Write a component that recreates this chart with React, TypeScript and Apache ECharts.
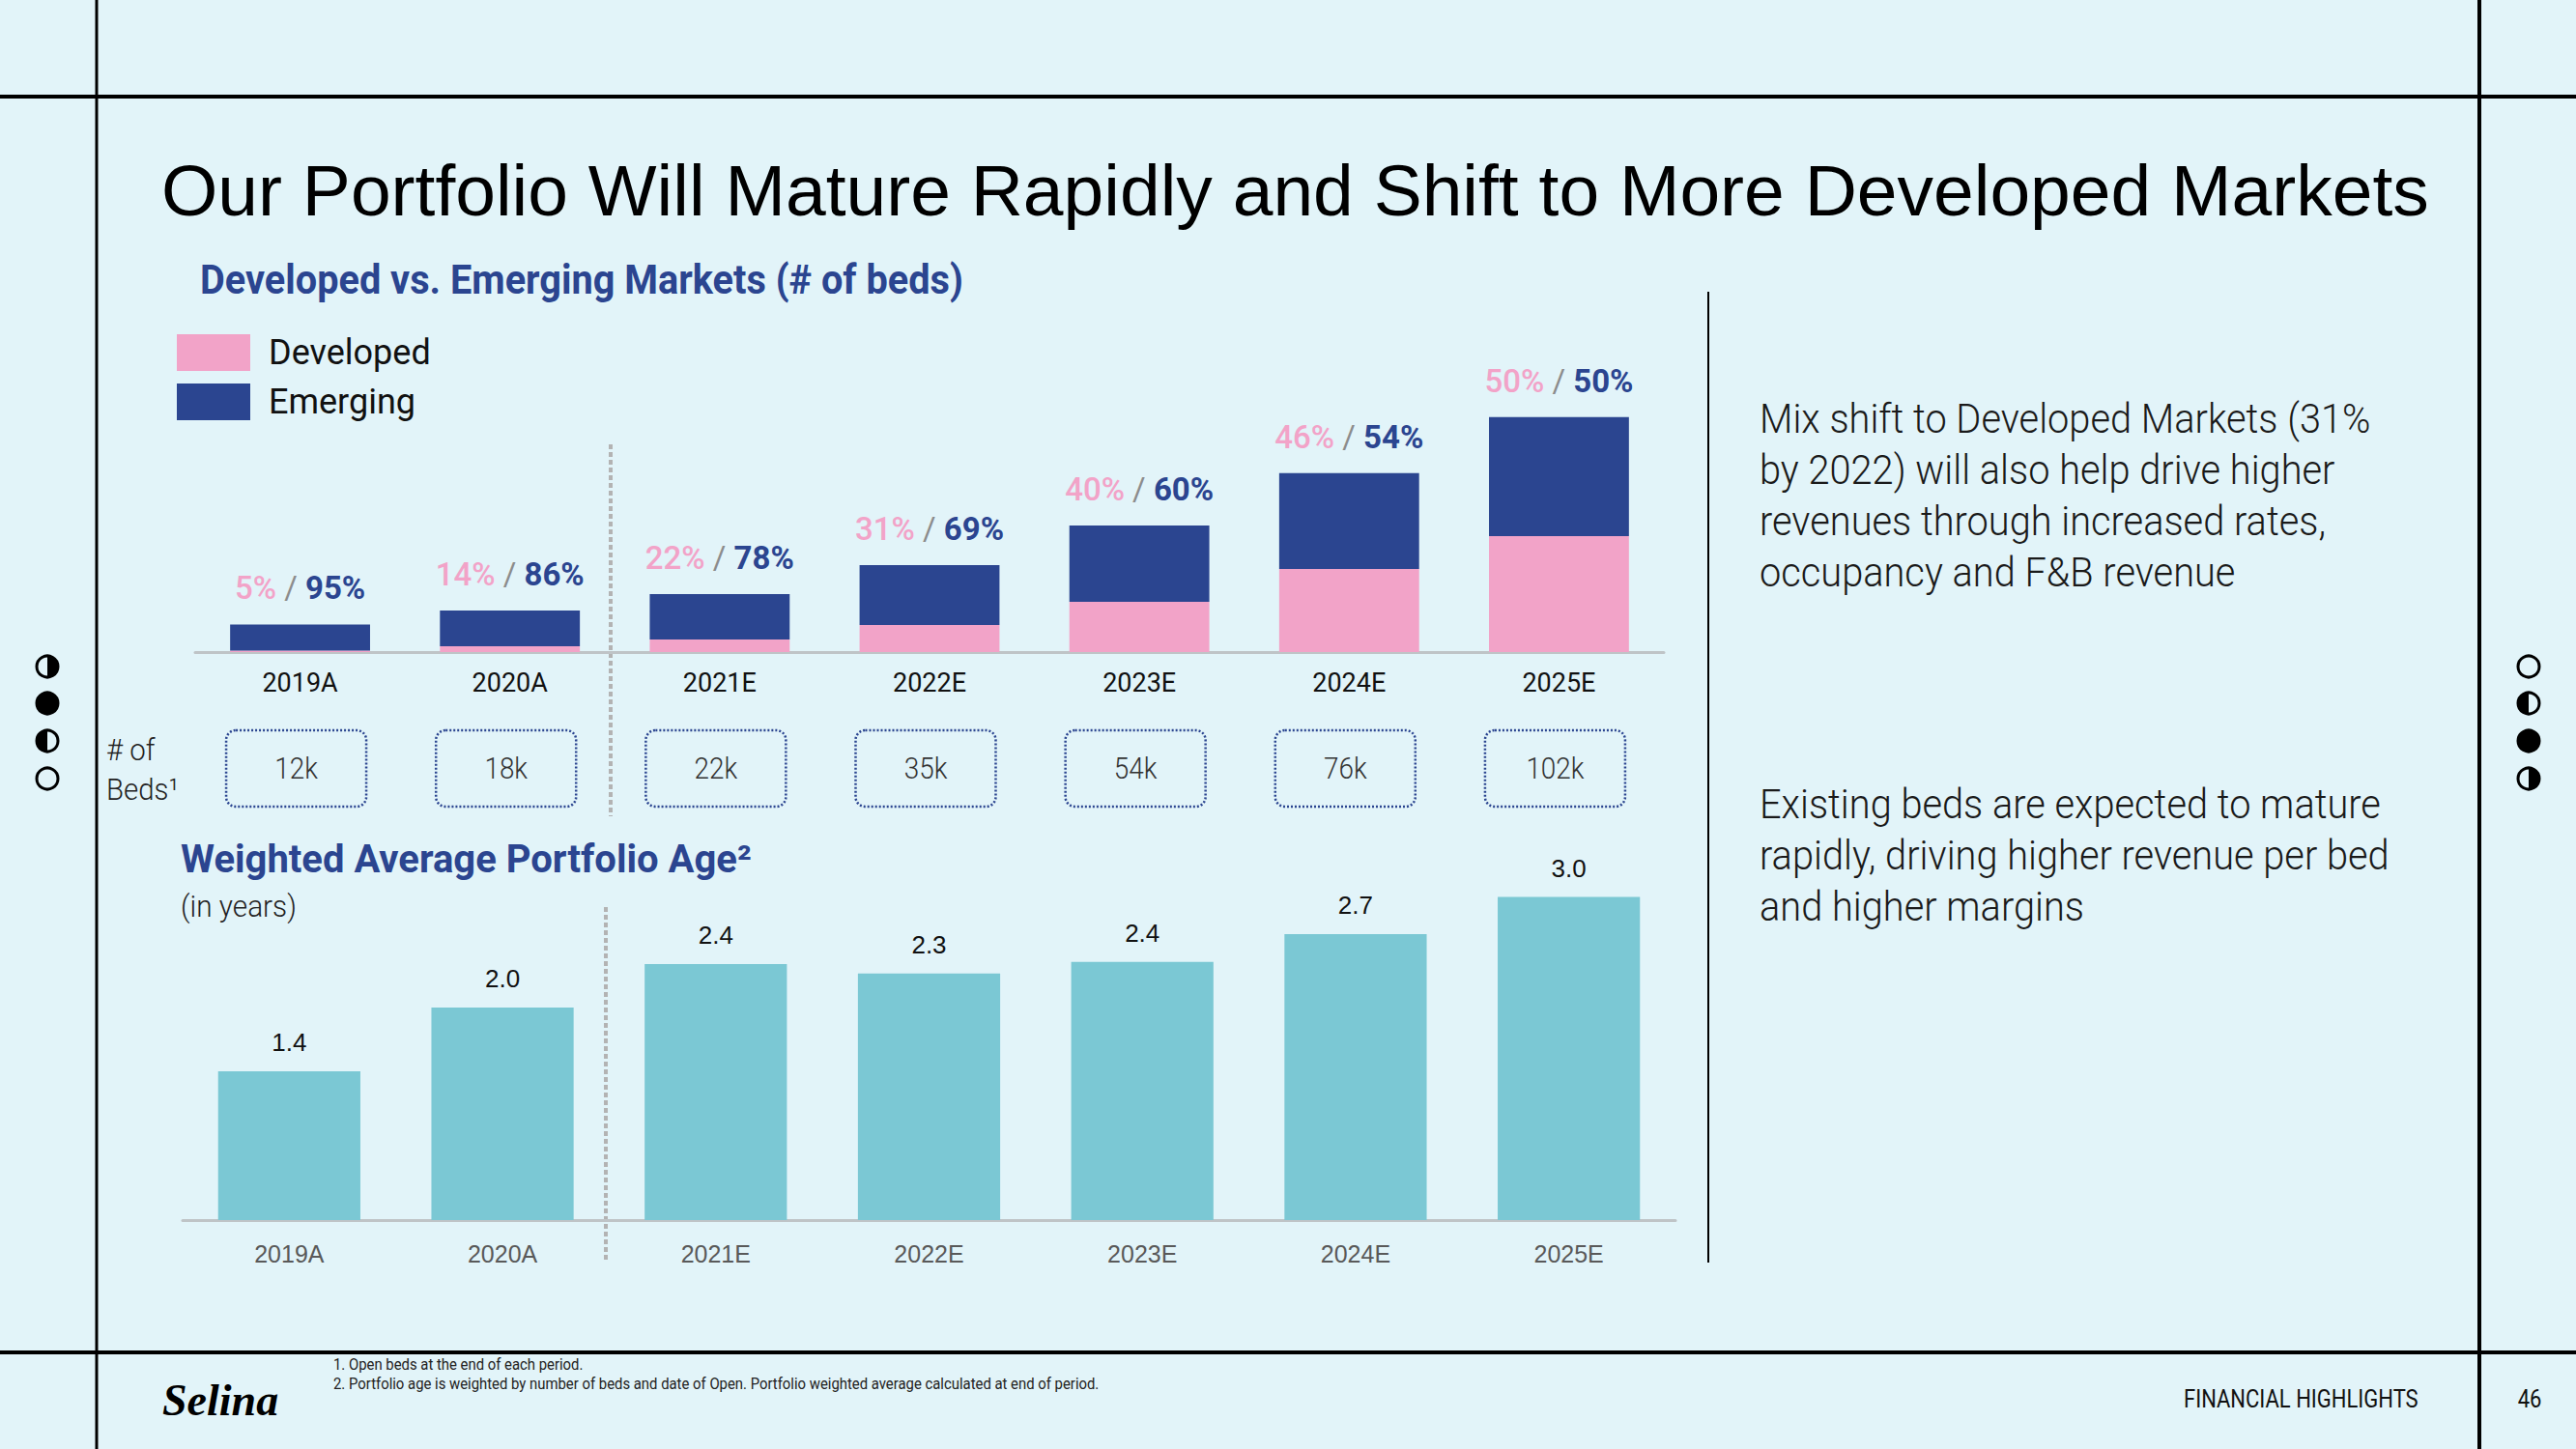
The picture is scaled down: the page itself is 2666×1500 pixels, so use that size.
import React, { useEffect, useRef } from "react";
import * as echarts from "echarts";

// ---------- data ----------
const categories = ["2019A", "2020A", "2021E", "2022E", "2023E", "2024E", "2025E"];
const developedBeds = [0.6, 2.5, 5.5, 11.8, 21.8, 36.1, 50.4]; // thousands of beds
const emergingBeds = [11.4, 15.5, 19.7, 26.0, 33.2, 41.6, 51.7]; // thousands of beds
const developedPct = [5, 14, 22, 31, 40, 46, 50];
const emergingPct = [95, 86, 78, 69, 60, 54, 50];
const totalBedsK = [12, 18, 22, 35, 54, 76, 102];
const portfolioAge = [1.4, 2.0, 2.41, 2.32, 2.43, 2.69, 3.04];
const mixText = [
  "Mix shift to Developed Markets (31%",
  "by 2022) will also help drive higher",
  "revenues through increased rates,",
  "occupancy and F&B revenue",
];
const matureText = [
  "Existing beds are expected to mature",
  "rapidly, driving higher revenue per bed",
  "and higher margins",
];
const footnotes = [
  "1. Open beds at the end of each period.",
  "2. Portfolio age is weighted by number of beds and date of Open. Portfolio weighted average calculated at end of period.",
];

// ---------- style ----------
const W = 2666;
const H = 1500;
const BG = "#E2F4F9";
const NAVY = "#2B4590";
const PINK = "#F2A3C8";
const TEAL = "#7BC8D4";
const AXIS = "#BFC4C7";
const SEP = "#B3B3B3";
const ROBOTO = "Roboto, 'Noto Sans', sans-serif";
const ARIAL = "'Liberation Sans', Arial, sans-serif";

function txt(text: string, x: number, y: number, o: any = {}) {
  const align = o.align || "left";
  const va = o.va || "middle";
  return {
    type: "text",
    x,
    y,
    scaleX: o.scaleX ?? 1,
    z: 10,
    style: {
      text,
      fontSize: o.size || 20,
      fontFamily: o.family || ROBOTO,
      fontWeight: o.weight || "normal",
      fontStyle: o.style || "normal",
      fill: o.color || "#111",
      align,
      verticalAlign: va,
      textAlign: align,
      textVerticalAlign: va,
      lineHeight: o.lineHeight,
    },
  };
}

function moon(cx: number, cy: number, kind: string) {
  const r = 11;
  const els: any[] = [];
  if (kind === "full") {
    els.push({ type: "circle", shape: { cx, cy, r }, style: { fill: "#000", stroke: "#000", lineWidth: 3 } });
    return els;
  }
  if (kind === "left")
    els.push({
      type: "sector",
      shape: { cx, cy, r0: 0, r, startAngle: Math.PI / 2, endAngle: Math.PI * 1.5 },
      style: { fill: "#000" },
    });
  if (kind === "right")
    els.push({
      type: "sector",
      shape: { cx, cy, r0: 0, r, startAngle: -Math.PI / 2, endAngle: Math.PI / 2 },
      style: { fill: "#000" },
    });
  els.push({ type: "circle", shape: { cx, cy, r }, style: { fill: "none", stroke: "#000", lineWidth: 3 } });
  return els;
}

const moonYs = [690, 728, 767, 806];
const leftMoons = ["right", "full", "left", "empty"];
const rightMoons = ["empty", "left", "full", "right"];

function line(x1: number, y1: number, x2: number, y2: number, stroke: string, lineWidth: number, dash?: number[]) {
  return { type: "line", shape: { x1, y1, x2, y2 }, style: { stroke, lineWidth, lineDash: dash } };
}

const graphicElements: any[] = [
  // frame
  line(0, 100, W, 100, "#000", 4),
  line(0, 1400, W, 1400, "#000", 4),
  line(100, 0, 100, H, "#000", 3),
  line(2566, 0, 2566, H, "#000", 4),
  // right divider
  line(1768, 302, 1768, 1307, "#000", 2),
  // actual / estimate separators
  line(632, 460, 632, 845, SEP, 4, [5, 3]),
  line(627, 939, 627, 1307, SEP, 4, [5, 3]),
  // titles
  txt("Our Portfolio Will Mature Rapidly and Shift to More Developed Markets", 167, 197, {
    size: 75,
    family: ARIAL,
    color: "#000",
  }),
  txt("Developed vs. Emerging Markets (# of beds)", 207, 290, {
    size: 42,
    weight: "bold",
    color: NAVY,
    scaleX: 0.945,
  }),
  txt("Weighted Average Portfolio Age\u00B2", 187, 889, { size: 40, weight: "bold", color: NAVY, scaleX: 1.0 }),
  txt("(in years)", 187, 938, { size: 32, weight: 300, color: "#222", scaleX: 0.93 }),
  txt("# of", 110, 776, { size: 32, weight: 300, color: "#222", scaleX: 0.92 }),
  txt("Beds\u00B9", 110, 817, { size: 32, weight: 300, color: "#222", scaleX: 0.92 }),
  // commentary
  txt(mixText.join("\n"), 1821, 407, {
    size: 43,
    weight: 300,
    color: "#1a1a1a",
    scaleX: 0.925,
    va: "top",
    lineHeight: 53,
  }),
  txt(matureText.join("\n"), 1821, 806, {
    size: 43,
    weight: 300,
    color: "#1a1a1a",
    scaleX: 0.925,
    va: "top",
    lineHeight: 53,
  }),
  // footer
  txt("Selina", 168, 1449, {
    size: 46,
    family: "'Liberation Serif', 'DejaVu Serif', serif",
    weight: "bold",
    style: "italic",
    color: "#000",
  }),
  txt(footnotes[0], 345, 1413, { size: 16, color: "#222", scaleX: 0.93 }),
  txt(footnotes[1], 345, 1433, { size: 16, color: "#222", scaleX: 0.93 }),
  txt("FINANCIAL HIGHLIGHTS", 2260, 1449, { size: 25, color: "#111", scaleX: 0.88 }),
  txt("46", 2618, 1449, { size: 25, color: "#111", scaleX: 0.88, align: "center" }),
];
moonYs.forEach((y, i) => {
  graphicElements.push(...moon(49, y, leftMoons[i]));
  graphicElements.push(...moon(2617, y, rightMoons[i]));
});

const option: any = {
  animation: false,
  backgroundColor: BG,
  legend: {
    data: ["Developed", "Emerging"],
    orient: "vertical",
    left: 183,
    top: 346,
    padding: 0,
    itemWidth: 76,
    itemHeight: 38,
    itemGap: 13,
    icon: "rect",
    selectedMode: false,
    textStyle: { fontSize: 36, fontFamily: ROBOTO, color: "#111", padding: [10, 0, 0, 14] },
  },
  grid: [
    { left: 202, top: 389, width: 1520, height: 286 },
    { left: 189, top: 878, width: 1545, height: 385 },
  ],
  xAxis: [
    {
      type: "category",
      gridIndex: 0,
      data: categories,
      axisLine: { lineStyle: { color: AXIS, width: 3 } },
      axisTick: { show: false },
      axisLabel: { color: "#111", fontSize: 27, fontFamily: ROBOTO, margin: 18 },
    },
    {
      type: "category",
      gridIndex: 1,
      data: categories,
      axisLine: { lineStyle: { color: AXIS, width: 3 } },
      axisTick: { show: false },
      axisLabel: { color: "#595959", fontSize: 25, fontFamily: ARIAL, margin: 22 },
    },
  ],
  yAxis: [
    { type: "value", gridIndex: 0, min: 0, max: 120, show: false, splitLine: { show: false } },
    { type: "value", gridIndex: 1, min: 0, max: 3.5, show: false, splitLine: { show: false } },
  ],
  series: [
    {
      name: "Developed",
      type: "bar",
      xAxisIndex: 0,
      yAxisIndex: 0,
      stack: "mix",
      barCategoryGap: "33.3%",
      itemStyle: { color: PINK },
      data: developedBeds,
    },
    {
      name: "Emerging",
      type: "bar",
      xAxisIndex: 0,
      yAxisIndex: 0,
      stack: "mix",
      barCategoryGap: "33.3%",
      itemStyle: { color: NAVY },
      data: emergingBeds,
      label: {
        show: true,
        position: "top",
        distance: 21,
        formatter: (p: any) => `{d|${developedPct[p.dataIndex]}%}{s| / }{e|${emergingPct[p.dataIndex]}%}`,
        rich: {
          d: { color: PINK, fontSize: 33, fontWeight: 500, fontFamily: ROBOTO },
          s: { color: "#8C8C8C", fontSize: 33, fontFamily: ROBOTO },
          e: { color: NAVY, fontSize: 33, fontWeight: "bold", fontFamily: ROBOTO },
        },
      },
    },
    {
      name: "Beds",
      type: "custom",
      xAxisIndex: 0,
      yAxisIndex: 0,
      silent: true,
      data: totalBedsK.map((v, i) => [i, v]),
      renderItem: (params: any, api: any) => {
        const c = api.coord([api.value(0), 0]);
        const w = 145;
        const h = 79;
        const cx = c[0] - 4;
        const cy = c[1] + 120.5;
        return {
          type: "group",
          children: [
            {
              type: "rect",
              shape: { x: cx - w / 2, y: cy - h / 2, width: w, height: h, r: 10 },
              style: { fill: "none", stroke: NAVY, lineWidth: 2.5, lineDash: [2, 2] },
            },
            {
              type: "text",
              x: cx,
              y: cy,
              scaleX: 0.9,
              style: {
                text: `${api.value(1)}k`,
                fontSize: 31,
                fontWeight: 300,
                fontFamily: ROBOTO,
                fill: "#333",
                align: "center",
                verticalAlign: "middle",
                textAlign: "center",
                textVerticalAlign: "middle",
              },
            },
          ],
        };
      },
    },
    {
      name: "Portfolio Age",
      type: "bar",
      xAxisIndex: 1,
      yAxisIndex: 1,
      barCategoryGap: "33.3%",
      itemStyle: { color: TEAL },
      data: portfolioAge,
      label: {
        show: true,
        position: "top",
        distance: 17,
        color: "#111",
        fontSize: 26,
        fontFamily: ARIAL,
        formatter: (p: any) => Number(p.value).toFixed(1),
      },
    },
  ],
  graphic: { elements: graphicElements },
};

export default function App() {
  const ref = useRef<HTMLDivElement>(null);
  useEffect(() => {
    const chart = echarts.init(ref.current as HTMLDivElement, null, { renderer: "svg", width: W, height: H });
    chart.setOption(option);
    return () => chart.dispose();
  }, []);
  return (
    <div
      ref={ref}
      style={{ position: "absolute", left: 0, top: 0, width: W, height: H, background: BG }}
    />
  );
}
